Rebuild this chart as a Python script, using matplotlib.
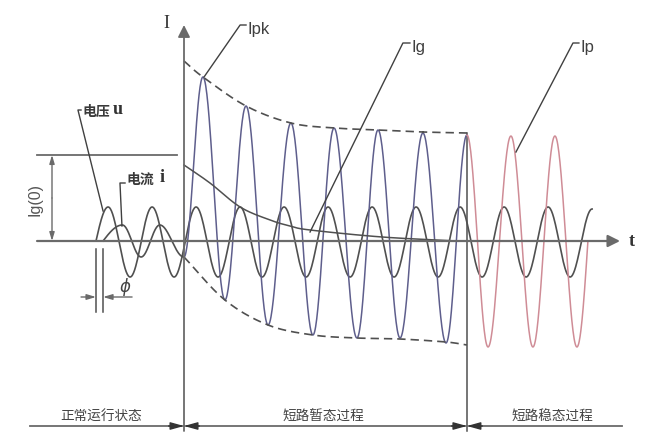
import numpy as np
import matplotlib
matplotlib.use('Agg')
from matplotlib import pyplot as plt

# time in ms (fault at t=0), current in arbitrary units
# voltage u: extrema
u_t = [-40, -34.5, -24.5, -14.5, -4.5, 5.5, 15.5, 25.5, 35.5, 45.5, 55.5, 65.5,
       75.5, 85.5, 95.5, 105.5, 115.5, 125.5, 135.5, 145.5, 155.5, 165.5, 175.5, 185.5]
u_y = [0] + [3.4, -3.6] * 11 + [3.2]

# load current i before the fault
i_t = [-36.8, -28, -19.5, -11, 0]
i_y = [0, 1.6, -1.6, 1.6, -1.6]

# short-circuit current (transient then steady)
k_t = [0, 8.6, 18.6, 28.2, 38.2, 48.6, 58.6, 68.2, 78.6, 88.2, 98.2, 108.6,
       119.1, 128.6, 138.2, 148.6, 158.6, 168.6, 178.6, 183.6]
k_y = [-1.6, 16.4, -5.9, 13.5, -8.4, 11.8, -9.4, 11.3, -9.7, 11.1, -9.7, 10.8,
       -10.2, 10.6, -10.6, 10.5, -10.6, 10.5, -10.6, 0]
t_steady = 128.6

# envelopes (dashed)
up_t = [0, 8.6, 28.2, 48.6, 68.2, 88.2, 108.6, 128.6]
up_y = [18.0, 16.4, 13.5, 11.8, 11.3, 11.1, 10.9, 10.8]
lo_t = [0, 18.6, 38.2, 58.6, 78.6, 98.2, 119.1, 128.6]
lo_y = [-1.6, -5.9, -8.4, -9.4, -9.7, -9.8, -10.1, -10.4]

# aperiodic component Ig
g_t = [0, 11.8, 25.5, 39.1, 48.2, 57.3, 90, 124]
g_y = [7.6, 5.8, 3.4, 2.1, 1.5, 1.1, 0.4, 0.0]

ig0 = 8.6
stage_labels = ['正常运行状态', '短路暂态过程', '短路稳态过程']
stage_pos = [-37.7, 63.2, 167.3]

CJK = 'Noto Sans CJK SC'
dark = '#505050'
axc = '#6a6a6a'
blue = '#5e5e8c'
red = '#cf8c96'


def wave(ts, ys, n=40):
    xs, yv = [], []
    for a in range(len(ts) - 1):
        t0, t1, y0, y1 = ts[a], ts[a + 1], ys[a], ys[a + 1]
        s = np.linspace(0, 1, n)
        if y0 == 0:
            f = np.sin(np.pi / 2 * s)
        elif y1 == 0:
            f = 1 - np.cos(np.pi / 2 * s)
        else:
            f = (1 - np.cos(np.pi * s)) / 2
        xs.append(t0 + (t1 - t0) * s)
        yv.append(y0 + (y1 - y0) * f)
    return np.concatenate(xs), np.concatenate(yv)


def smooth(ts, ys, n=30):
    p = np.column_stack([ts, ys]).astype(float)
    p = np.vstack([2 * p[0] - p[1], p, 2 * p[-1] - p[-2]])
    out = []
    s = np.linspace(0, 1, n)[:, None]
    for a in range(1, len(p) - 2):
        p0, p1, p2, p3 = p[a - 1], p[a], p[a + 1], p[a + 2]
        out.append(0.5 * ((2 * p1) + (-p0 + p2) * s + (2 * p0 - 5 * p1 + 4 * p2 - p3) * s ** 2
                          + (-p0 + 3 * p1 - 3 * p2 + p3) * s ** 3))
    out = np.vstack(out)
    return out[:, 0], out[:, 1]


def arrow(ax, tip, tail, col=axc, lw=1.3, hl=0.5, hw=0.22, ms=12):
    ax.annotate('', xy=tip, xytext=tail,
                arrowprops=dict(arrowstyle='-|>,head_length=%g,head_width=%g' % (hl, hw),
                                color=col, lw=lw, shrinkA=0, shrinkB=0, mutation_scale=ms))


fig = plt.figure(figsize=(6.52, 4.42), dpi=100)
ax = fig.add_axes([0, 0, 1, 1])
ax.set_xlim(-184 / 2.2, (652 - 184) / 2.2)
ax.set_ylim(-20.1, 24.1)
ax.axis('off')

# axes
arrow(ax, (198.2, 0), (-66.8, 0), lw=1.6, hl=0.6, hw=0.3)
arrow(ax, (0, 21.6), (0, -19), lw=1.3, hl=0.6, hw=0.3)
ax.text(203.6, -0.1, 't', fontsize=13, fontweight='bold', family='Liberation Serif',
        ha='center', va='center', color='#333333')
ax.text(-8.2, 21.7, 'I', fontsize=13, family='Liberation Serif',
        ha='center', va='center', color='#333333')
ax.plot([t_steady, t_steady], [10.8, -19], color=dark, lw=1.1)

# waves
x, y = wave(u_t, u_y)
ax.plot(x, y, color=dark, lw=1.2)
x, y = wave(i_t, i_y)
ax.plot(x, y, color=dark, lw=1.2)
x, y = wave(k_t, k_y)
ax.plot(np.where(x <= t_steady, x, np.nan), y, color=blue, lw=1.1)
ax.plot(np.where(x >= t_steady, x, np.nan), y, color=red, lw=1.1)

x, y = smooth(up_t, up_y)
ax.plot(x, y, color=dark, lw=1.2, dashes=(5, 3))
x, y = smooth(lo_t, lo_y)
ax.plot(x, y, color=dark, lw=1.2, dashes=(5, 3))
x, y = smooth(g_t, g_y)
ax.plot(x, y, color=dark, lw=1.1)

# Ig(0) dimension
ax.plot([-66.8, -3.2], [ig0, ig0], color=axc, lw=1.3)
arrow(ax, (-60, ig0), (-60, ig0 / 2), lw=1.0, hl=0.5, hw=0.15, ms=10)
arrow(ax, (-60, 0), (-60, ig0 / 2), lw=1.0, hl=0.5, hw=0.15, ms=10)
ax.text(-67.7, 4.2, 'Ig(0)', rotation=90, fontsize=11.5, family='Liberation Sans',
        ha='center', va='center', color='#555555')

# phase angle
for tt in [-40, -36.8]:
    ax.plot([tt, tt], [-0.8, -7.1], color=dark, lw=1.1)
arrow(ax, (-40, -5.6), (-46.8, -5.6), lw=1.0, hl=0.6, hw=0.18, ms=9)
arrow(ax, (-36.8, -5.6), (-23.6, -5.6), lw=1.0, hl=0.6, hw=0.18, ms=9)
ax.text(-26.8, -4.6, r'$\phi$', fontsize=12, ha='center', va='center', color='#444444')

# leaders and labels
leaders = [
    ((9.1, 16.4), (25.5, 21.6), 28.2, 'Ipk', 20.7),
    ((57.3, 0.9), (99.5, 19.8), 102.7, 'Ig', 18.9),
    ((150.9, 8.9), (176.8, 19.8), 179.5, 'Ip', 18.9),
]
for (a, b, hook, lab, base) in leaders:
    ax.plot([a[0], b[0], hook], [a[1], b[1], b[1]], color='#404040', lw=1.0)
    ax.text(hook + 0.6, base, lab, fontsize=12, family='Liberation Sans',
            ha='left', va='baseline', color='#404040')

ax.plot([-36.8, -48.2, -46.8], [3.0, 13.1, 13.1], color='#404040', lw=1.0)
ax.text(-46.2, 12.9, '电压', fontsize=10, fontweight='bold', family=CJK,
        ha='left', va='center', color='#3a3a3a')
ax.text(-32.4, 13.1, 'u', fontsize=13, fontweight='bold', family='Liberation Serif',
        ha='left', va='center', color='#333333')
ax.plot([-28.2, -29.1, -26.8], [1.5, 5.8, 5.8], color='#404040', lw=1.0)
ax.text(-26.2, 6.1, '电流', fontsize=10, fontweight='bold', family=CJK,
        ha='left', va='center', color='#3a3a3a')
ax.text(-11.0, 6.3, 'i', fontsize=13, fontweight='bold', family='Liberation Serif',
        ha='left', va='center', color='#333333')

# stage bar
ax.plot([-70, 199.1], [-18.5, -18.5], color=axc, lw=1.3)
for tt in [0, t_steady]:
    arrow(ax, (tt, -18.5), (tt - 7, -18.5), col='#333333', lw=1.0, hl=0.9, hw=0.25, ms=9)
    arrow(ax, (tt, -18.5), (tt + 7, -18.5), col='#333333', lw=1.0, hl=0.9, hw=0.25, ms=9)
for lab, pos in zip(stage_labels, stage_pos):
    ax.text(pos, -17.6, lab, fontsize=9.8, family=CJK, ha='center', va='center', color='#444444')

fig.savefig('out.png', dpi=100)
